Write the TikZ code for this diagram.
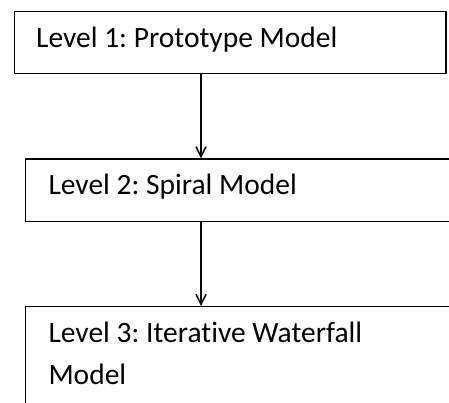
\documentclass[tikz,border=0pt]{standalone}
\usepackage{fontspec}
\setmainfont[Ligatures={NoCommon}]{Carlito}
\usetikzlibrary{arrows.meta}
\frenchspacing
\begin{document}
\begin{tikzpicture}[x=1pt,y=1pt,
  boxnode/.style={draw=black, line width=1.5pt, rectangle, inner sep=0pt, anchor=north west},
  lbl/.style={anchor=base west, inner sep=0pt, font=\fontsize{29.5}{41.6}\selectfont},
  arr/.style={draw=black, line width=1.5pt, -{Straight Barb[length=10pt,width=10pt,line width=1.5pt]}}]
\useasboundingbox (0,0) rectangle (449,403);
\fill[white] (0,0) rectangle (449,403);
\node[boxnode, minimum width=431.5pt, minimum height=62pt] (b1) at (13.5,392.3) {};
\node[boxnode, minimum width=460pt, minimum height=62.4pt] (b2) at (24.7,244.7) {};
\node[boxnode, minimum width=460pt, minimum height=120pt] (b3) at (24.7,97) {};
\node[lbl] (t1) at (36,355) {Level 1: Prototype Model};
\node[lbl] (t2) at (48.3,208) {Level 2: Spiral Model};
\node[lbl] (t3) at (48.3,60.3) {Level 3: Iterative Waterfall};
\node[lbl] (t4) at (48.3,18.7) {Model};
\coordinate (ax) at (201,0);
\draw[arr] (b1.south -| ax) -- (b2.north -| ax);
\draw[arr] (b2.south -| ax) -- (b3.north -| ax);
\end{tikzpicture}
\end{document}
